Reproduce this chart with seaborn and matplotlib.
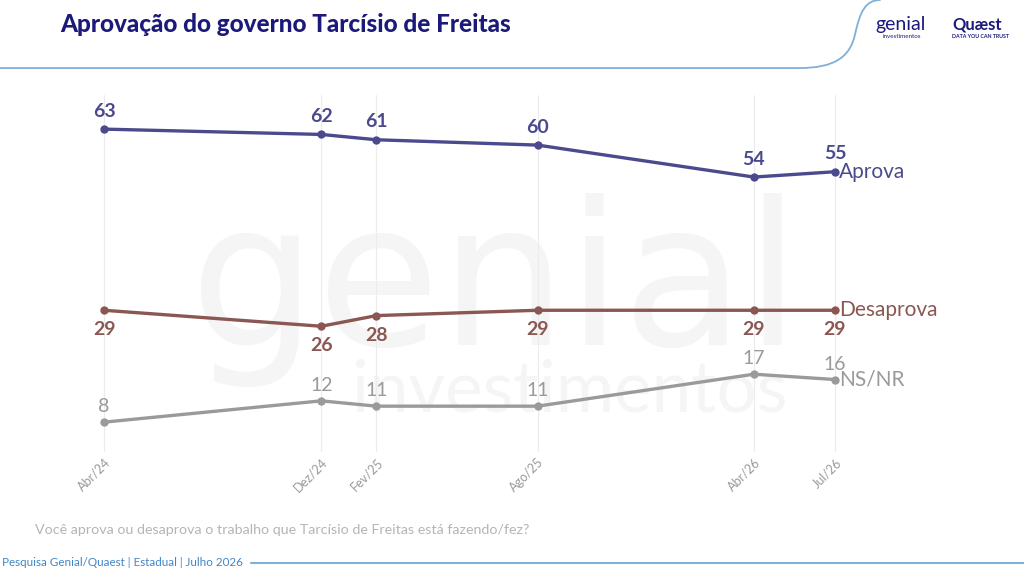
import matplotlib
matplotlib.use("Agg")
import matplotlib.pyplot as plt
from matplotlib.patches import PathPatch
from matplotlib.path import Path
import seaborn as sns
import pandas as pd

# data
datas = ["2024-04-01", "2024-12-01", "2025-02-01", "2025-08-01", "2026-04-01", "2026-07-01"]
rotulos = ["Abr/24", "Dez/24", "Fev/25", "Ago/25", "Abr/26", "Jul/26"]
aprova = [63, 62, 61, 60, 54, 55]
desaprova = [29, 26, 28, 29, 29, 29]
nsnr = [8, 12, 11, 11, 17, 16]

series = ["Aprova", "Desaprova", "NS/NR"]
cores = {"Aprova": "#4b4a8c", "Desaprova": "#8a5752", "NS/NR": "#9a9a9a"}

datas = pd.to_datetime(datas)
df = pd.DataFrame({
    "data": list(datas) * 3,
    "valor": aprova + desaprova + nsnr,
    "serie": ["Aprova"] * 6 + ["Desaprova"] * 6 + ["NS/NR"] * 6,
})

sns.set_theme(style="white")
plt.rcParams['font.family'] = ['Lato', 'DejaVu Sans']

fig = plt.figure(figsize=(10.24, 5.72), dpi=100)
fig.patch.set_facecolor("white")

# watermark (behind the axes)
fig.text(0.484, 0.397, "genial", fontsize=144, color="#f5f5f5", ha="center",
         va="baseline", family="DejaVu Sans", zorder=-5)
fig.text(0.556, 0.280, "investimentos", fontsize=51, color="#f5f5f5", ha="center",
         va="baseline", zorder=-5)

ax = fig.add_axes([0.0755, 0.2098, 0.766, 0.6241])
ax.set_zorder(2)
ax.set_facecolor("none")
ax = sns.lineplot(data=df, x="data", y="valor", hue="serie", palette=cores,
                  marker="o", markersize=6, markeredgewidth=0, linewidth=2.4,
                  ax=ax, legend=False)
for ln in ax.lines:
    ln.set_clip_on(False)

ax.set_xlim(datas[0] - pd.Timedelta(days=30), datas[-1] + pd.Timedelta(days=30))
ax.set_ylim(2.4, 69.4)
ax.set_xticks(datas)
ax.set_xticklabels(rotulos, rotation=45, ha="right", rotation_mode="anchor",
                   fontsize=9, color="#9a9a9a")
ax.tick_params(axis="x", length=0, pad=3)
ax.set_yticks([])
ax.set_xlabel("")
ax.set_ylabel("")
for s in ax.spines.values():
    s.set_visible(False)
for d in datas:
    ax.axvline(d, color="#ececec", linewidth=0.8, zorder=0)

# value labels
estilo = {"Aprova": (13, "bold"), "Desaprova": (-14, "bold"), "NS/NR": (11, "normal")}
valores = {"Aprova": aprova, "Desaprova": desaprova, "NS/NR": nsnr}
for s in series:
    dy, w = estilo[s]
    for d, v in zip(datas, valores[s]):
        ax.annotate(str(v), (d, v), xytext=(0, dy), textcoords="offset points",
                    ha="center", va="center", fontsize=14, weight=w, color=cores[s])
    ax.annotate(s, (datas[-1], valores[s][-1]), xytext=(3, 0), textcoords="offset points",
                ha="left", va="center", fontsize=15, color=cores[s])

# header
fig.text(0.059, 0.958, "Aprovação do governo Tarcísio de Freitas", fontsize=17.5,
         weight="black", color="#1b1a7a", ha="left", va="center")
verts = [(0, 0.881), (0.78, 0.881), (0.815, 0.881), (0.83, 0.90), (0.835, 0.94),
         (0.84, 0.98), (0.845, 1.0), (0.86, 1.0)]
codes = [Path.MOVETO, Path.LINETO, Path.CURVE4, Path.CURVE4, Path.CURVE4,
         Path.CURVE4, Path.CURVE4, Path.CURVE4]
fig.patches.append(PathPatch(Path(verts, codes), transform=fig.transFigure,
                             fill=False, edgecolor="#7fb0d8", linewidth=1.3))
fig.text(0.855, 0.957, "genial", fontsize=14, color="#1b1a7a", ha="left", va="center")
fig.text(0.862, 0.937, "investimentos", fontsize=4.5, color="#1b1a7a", ha="left", va="center")
fig.text(0.93, 0.957, "Quæst", fontsize=12, weight="bold", color="#1b1a7a", ha="left", va="center")
fig.text(0.93, 0.937, "DATA YOU CAN TRUST", fontsize=3.8, weight="bold", color="#1b1a7a",
         ha="left", va="center")

# footer
fig.text(0.034, 0.073, "Você aprova ou desaprova o trabalho que Tarcísio de Freitas está fazendo/fez?",
         fontsize=10.3, color="#b5b5b5", ha="left", va="center")
fig.text(0.002, 0.016, "Pesquisa Genial/Quaest | Estadual | Julho 2026", fontsize=8.4,
         color="#3f86c6", ha="left", va="center")
fig.lines.append(plt.Line2D([0.245, 1.0], [0.016, 0.016], transform=fig.transFigure,
                            color="#7fb0d8", linewidth=1.5))

fig.savefig("out.png", dpi=100)
plt.close()
